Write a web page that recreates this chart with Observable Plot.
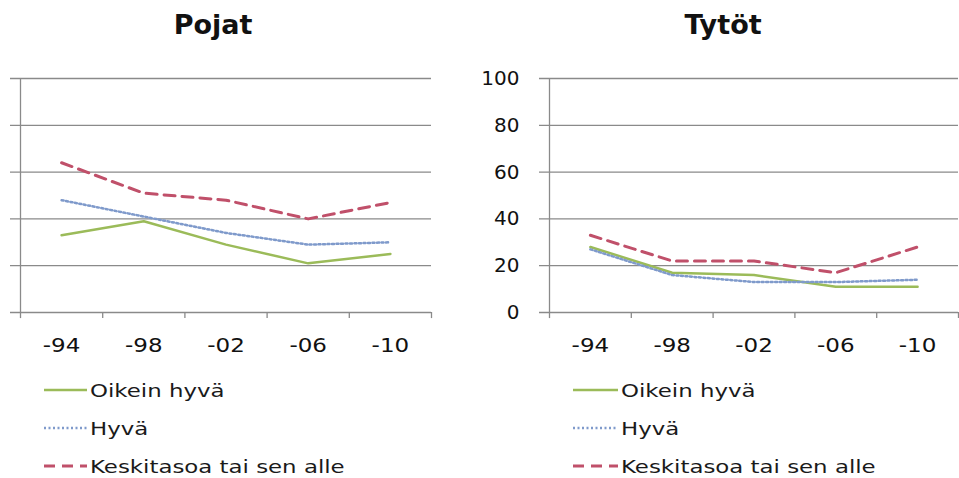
<!DOCTYPE html>
<html>
<head>
<meta charset="utf-8">
<script src="https://cdn.jsdelivr.net/npm/d3@7"></script>
<script src="https://cdn.jsdelivr.net/npm/@observablehq/plot@0.6"></script>
<style>
  body { margin: 0; background: #fff; width: 959px; height: 478px; overflow: hidden; position: relative; font-family: "DejaVu Sans", sans-serif; }
  .panel { position: absolute; top: 0; }
  .title { position: absolute; top: 9px; font-weight: bold; font-size: 27px; color: #111; transform: translateX(-50%); white-space: nowrap; }
  .legend { position: absolute; font-size: 18px; color: #1a1a1a; }
  .legend div { height: 38px; display: flex; align-items: center; white-space: nowrap; }
  .legend span { display: inline-block; transform: scaleX(1.27); transform-origin: left center; }
  .legend svg { margin-right: 3px; }
</style>
</head>
<body>
<script>
const years = ["-94", "-98", "-02", "-06", "-10"];
const yTicks = [0, 20, 40, 60, 80, 100];
const seriesNames = ["Oikein hyvä", "Hyvä", "Keskitasoa tai sen alle"];
const pojatOikein = [33, 39, 29, 21, 25];
const pojatHyva = [48, 41, 34, 29, 30];
const pojatKeski = [64, 51, 48, 40, 47];
const tytotOikein = [28, 17, 16, 11, 11];
const tytotHyva = [27, 16, 13, 13, 14];
const tytotKeski = [33, 22, 22, 17, 28];

const styles = [
  {stroke: "#9bbb59", strokeWidth: 2.5, strokeDasharray: null},
  {stroke: "#7f9acb", strokeWidth: 2.5, strokeDasharray: "2,2.5"},
  {stroke: "#c0506a", strokeWidth: 3, strokeDasharray: "11,7"}
];

function rows(vals) {
  return vals.map((v, i) => ({x: i + 0.5, y: v, year: years[i]}));
}

function panel(series, opts) {
  const marks = [
    Plot.ruleY(yTicks, {y: d => d, stroke: "#8a8a8a", strokeWidth: 1.3, insetLeft: -10}),
    Plot.ruleX([0], {y1: 0, y2: 100, stroke: "#8a8a8a", strokeWidth: 1.3}),
    Plot.ruleX(d3.range(0, years.length + 1), {x: d => d, y1: 0, y2: -2.6, stroke: "#8a8a8a", strokeWidth: 1.3}),
    Plot.text(years, {x: (d, i) => i + 0.5, y: 0, text: d => d, dy: 33, fontSize: 20, fill: "#111", className: "xlab"})
  ];
  if (opts.yLabels) {
    marks.push(Plot.text(yTicks, {x: 0, y: d => d, text: d => String(d), textAnchor: "end", dx: -30, fontSize: 20, fill: "#111"}));
  }
  series.forEach((vals, k) => {
    marks.push(Plot.line(rows(vals), {x: "x", y: "y", ...styles[k]}));
  });
  const svg = Plot.plot({
    width: opts.width,
    height: 360,
    marginLeft: opts.marginLeft,
    marginRight: opts.marginRight,
    marginTop: 78,
    marginBottom: 48,
    x: {domain: [0, years.length], axis: null},
    y: {domain: [0, 100], axis: null},
    style: {fontFamily: "DejaVu Sans, sans-serif", overflow: "visible"},
    marks
  });
  // widen the x tick labels horizontally around their anchor
  svg.querySelectorAll(".xlab text").forEach(t => {
    const tr = t.getAttribute("transform") || "";
    t.setAttribute("transform", tr + " scale(1.15,1)");
  });
  return svg;
}

function addPanel(left, title, titleX, series, opts, legendLeft, lineW) {
  const wrap = document.createElement("div");
  wrap.className = "panel";
  wrap.style.left = left + "px";
  wrap.appendChild(panel(series, opts));
  document.body.appendChild(wrap);
  const t = document.createElement("div");
  t.className = "title";
  t.style.left = titleX + "px";
  t.textContent = title;
  document.body.appendChild(t);
  const lg = document.createElement("div");
  lg.className = "legend";
  lg.style.left = legendLeft + "px";
  lg.style.top = "371px";
  seriesNames.forEach((name, k) => {
    const row = document.createElement("div");
    const s = styles[k];
    row.innerHTML = `<svg width="${lineW}" height="10"><line x1="0" x2="${lineW}" y1="5" y2="5" stroke="${s.stroke}" stroke-width="${s.strokeWidth}" ${s.strokeDasharray ? `stroke-dasharray="${s.strokeDasharray}"` : ""}/></svg><span>${name}</span>`;
    lg.appendChild(row);
  });
  document.body.appendChild(lg);
}

addPanel(0, "Pojat", 213, [pojatOikein, pojatHyva, pojatKeski], {width: 440, marginLeft: 20, marginRight: 9, yLabels: false}, 44, 43);
addPanel(470, "Tytöt", 723, [tytotOikein, tytotHyva, tytotKeski], {width: 489, marginLeft: 79, marginRight: 1, yLabels: true}, 573, 45);
</script>
</body>
</html>
